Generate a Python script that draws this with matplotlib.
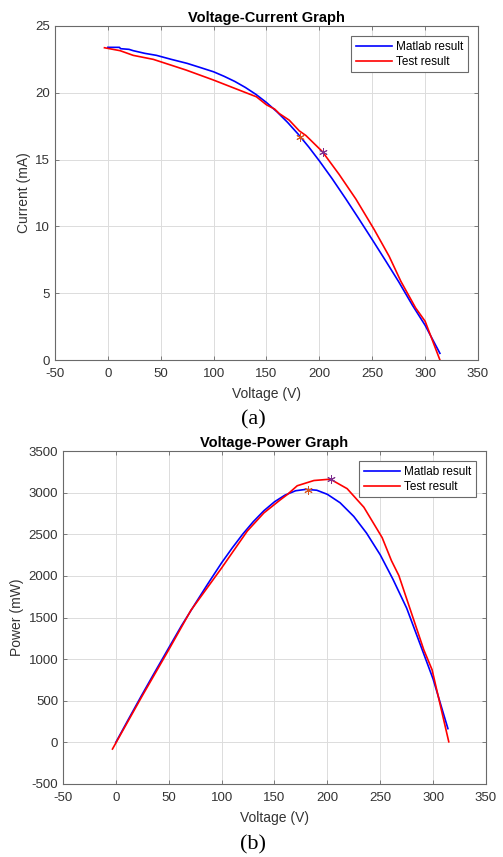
import numpy as np
import matplotlib.pyplot as plt

# Matlab model, I-V curve
v_matlab = [0, 11, 12, 20, 24, 35, 46, 60, 75, 87, 100, 110, 120, 130, 140, 150, 160, 170, 180, 190,
            200, 212, 225, 237, 250, 262, 275, 288, 300, 314]
i_matlab = [23.4, 23.4, 23.3, 23.25, 23.15, 22.95, 22.8, 22.5, 22.2, 21.9, 21.57, 21.23, 20.85, 20.4,
            19.88, 19.27, 18.57, 17.78, 16.9, 15.94, 14.9, 13.58, 12.06, 10.61, 9.01, 7.51, 5.86,
            4.1, 2.6, 0.5]

# Matlab model, P-V curve
vp_matlab = [0, 12, 24, 35, 50, 62, 75, 87, 100, 110, 120, 130, 140, 150, 160, 170, 180, 190, 200,
             212, 225, 237, 250, 262, 275, 288, 300, 314]
p_matlab = [0, 280, 556, 803, 1135, 1400, 1665, 1905, 2157, 2335, 2502, 2652, 2783, 2890, 2971, 3023,
            3040, 3029, 2980, 2879, 2714, 2515, 2253, 1960, 1612, 1170, 760, 165]

# measured test data, I-V
v_test = [-3.2, 11.6, 24, 43, 74, 100, 121, 140.5, 150, 157.7, 162, 171.5, 181, 187.3, 202.8, 218.6,
          234.5, 251.8, 266, 277, 291, 300, 314]
i_test = [23.37, 23.15, 22.8, 22.5, 21.7, 20.95, 20.3, 19.7, 19.1, 18.78, 18.45, 17.95, 17.15, 16.8,
          15.6, 13.9, 12.05, 9.77, 7.76, 5.9, 3.9, 2.9, 0.0]

# measured test data, P-V
vp_test = [-3.2, 25, 49, 71, 100, 124.3, 140, 155.8, 162, 171.5, 187.3, 202.8, 218.7, 234.5, 251.8,
           260.6, 267.6, 291.2, 299, 314.8]
p_test = [-80, 560, 1090, 1587, 2095, 2539, 2757, 2917, 2976, 3083, 3146, 3162, 3048, 2825, 2460,
          2183, 2004, 1111, 873, 7]

# maximum power points: voltage, current, power
mpp_matlab = (182, 16.7, 3036)
mpp_test = (203, 15.6, 3162)

plt.rcParams['font.family'] = ['Liberation Sans', 'DejaVu Sans']
plt.rcParams['axes.unicode_minus'] = False

fig = plt.figure(figsize=(5.03, 8.57), dpi=100)
ax1 = fig.add_axes([0.1093, 0.5799, 0.841, 0.3898])
ax2 = fig.add_axes([0.1252, 0.0852, 0.841, 0.3885])

asterisk = (6, 2, 0)


def style_axes(ax):
    ax.grid(True, color='#dcdcdc', linewidth=0.7)
    ax.set_axisbelow(True)
    for s in ax.spines.values():
        s.set_color('#6a6a6a')
        s.set_linewidth(0.8)
    ax.tick_params(direction='in', length=3, width=0.6, colors='#6a6a6a',
                   labelcolor='#333333', labelsize=9.5, top=True, right=True)
    ax.tick_params(axis='x', pad=6)
    ax.set_xlim(-50, 350)
    ax.set_xticks(np.arange(-50, 351, 50))


def add_legend(ax):
    leg = ax.legend(loc='upper right', fontsize=8.5, fancybox=False, framealpha=1,
                    edgecolor='#6a6a6a', handlelength=3.1, borderaxespad=0.85,
                    handletextpad=0.3, borderpad=0.4, labelspacing=0.25)
    leg.get_frame().set_linewidth(0.8)


ax1.plot(v_matlab, i_matlab, color='#0000ff', linewidth=1.2, label='Matlab result')
ax1.plot(v_test, i_test, color='#ff0000', linewidth=1.2, label='Test result')
ax1.plot(mpp_matlab[0], mpp_matlab[1], marker=asterisk, color='#d95319', markersize=6,
         markeredgewidth=0.7, linestyle='none')
ax1.plot(mpp_test[0], mpp_test[1], marker=asterisk, color='#7e2f8e', markersize=6,
         markeredgewidth=0.7, linestyle='none')
style_axes(ax1)
ax1.set_ylim(0, 25)
ax1.set_yticks(np.arange(0, 26, 5))
ax1.set_title('Voltage-Current Graph', fontsize=10.5, fontweight='bold', pad=3)
ax1.set_xlabel('Voltage (V)', fontsize=10, color='#333333', labelpad=5)
ax1.set_ylabel('Current (mA)', fontsize=10, color='#333333', labelpad=3)
add_legend(ax1)

ax2.plot(vp_matlab, p_matlab, color='#0000ff', linewidth=1.2, label='Matlab result')
ax2.plot(vp_test, p_test, color='#ff0000', linewidth=1.2, label='Test result')
ax2.plot(mpp_matlab[0], mpp_matlab[2], marker=asterisk, color='#d95319', markersize=6,
         markeredgewidth=0.7, linestyle='none')
ax2.plot(mpp_test[0], mpp_test[2], marker=asterisk, color='#7e2f8e', markersize=6,
         markeredgewidth=0.7, linestyle='none')
style_axes(ax2)
ax2.set_ylim(-500, 3500)
ax2.set_yticks(np.arange(-500, 3501, 500))
ax2.set_title('Voltage-Power Graph', fontsize=10.5, fontweight='bold', pad=3)
ax2.set_xlabel('Voltage (V)', fontsize=10, color='#333333', labelpad=5)
ax2.set_ylabel('Power (mW)', fontsize=10, color='#333333', labelpad=3)
add_legend(ax2)

fig.text(253 / 503, 1 - 420 / 857, '(a)', fontsize=16, family='Liberation Serif',
         ha='center', va='center')
fig.text(253 / 503, 1 - 845 / 857, '(b)', fontsize=16, family='Liberation Serif',
         ha='center', va='center')

fig.savefig('out.png', dpi=100)
